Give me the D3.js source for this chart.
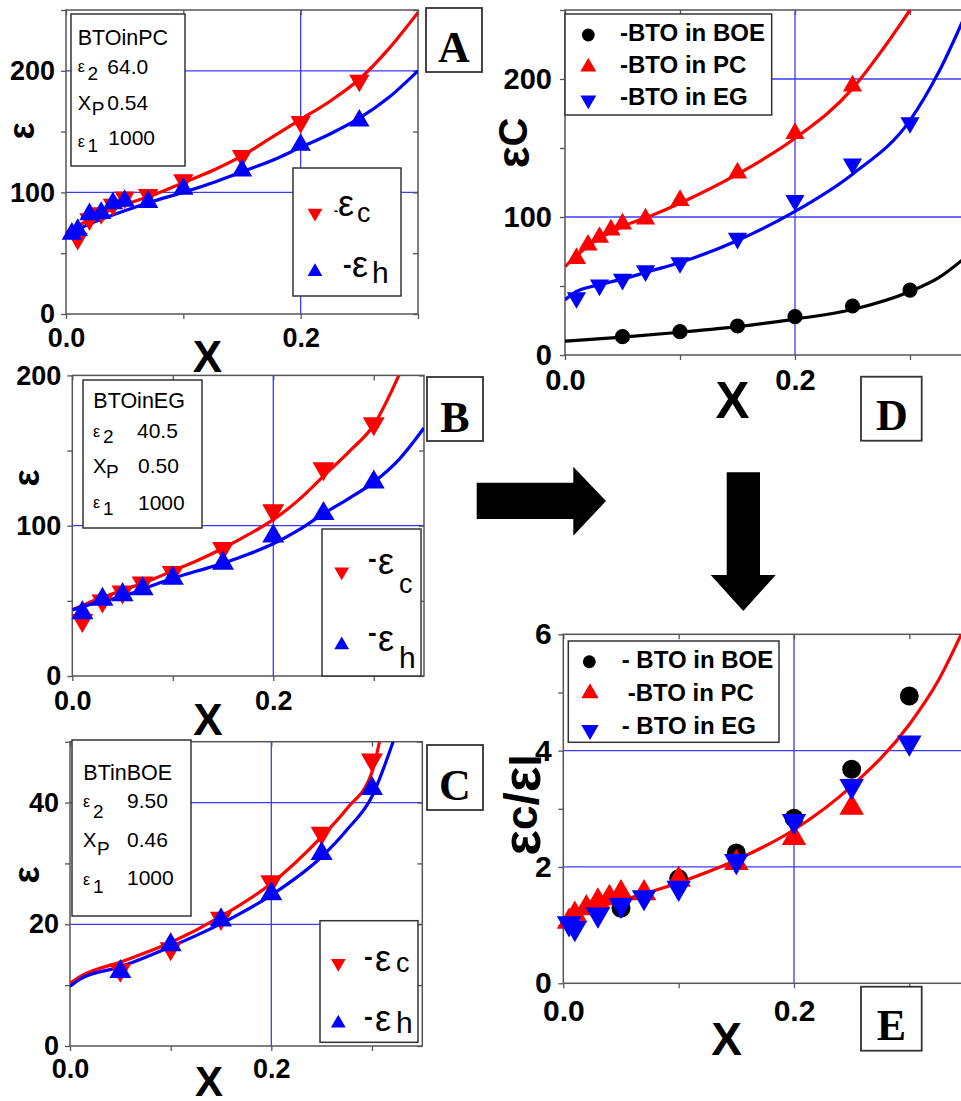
<!DOCTYPE html>
<html><head><meta charset="utf-8">
<script src="https://cdn.jsdelivr.net/npm/d3@7"></script>
<style>body{margin:0;background:#fff}svg{display:block}</style>
</head><body>
<script>
// ---------------- DATA ----------------
// Panel A : BTO in PC
const A_xc   = [0.01,0.02,0.03,0.04,0.05,0.07,0.1,0.15,0.2,0.25];
const A_epsc = [62,78,83,90,96,98,110,130,158,192];
const A_xh   = [0.005,0.01,0.02,0.03,0.04,0.05,0.07,0.1,0.15,0.2,0.25];
const A_epsh = [66,69,82,83,91,93,92,103,118,139,159];
const A_fitX = [0,0.025,0.05,0.075,0.1,0.125,0.15,0.175,0.2,0.225,0.25,0.275,0.3];
const A_fitC = [67,80,90,98,108,118,130,145,160,175,193,218,248];
const A_fitH = [65,76,85,93,100,108,117,126,137,148,161,178,200];
// Panel B : BTO in EG
const B_xc   = [0.01,0.03,0.05,0.07,0.1,0.15,0.2,0.25,0.3];
const B_epsc = [37,50,56,62,69,85,110,138,168];
const B_xh   = [0.01,0.03,0.05,0.07,0.1,0.15,0.2,0.25,0.3];
const B_epsh = [42,51,54,58,65,75,93,108,129];
const B_fitCX = [0,0.025,0.05,0.075,0.1,0.125,0.15,0.175,0.2,0.225,0.25,0.275,0.3,0.325];
const B_fitC  = [44,51,57,63,70,77,85,94,104,117,133,149,167,200];
const B_fitHX = [0,0.025,0.05,0.075,0.1,0.125,0.15,0.175,0.2,0.225,0.25,0.275,0.3,0.325,0.35];
const B_fitH  = [44,49,53,59,65,70,75,81,88,97,108,118,129,144,165];
// Panel C : BT in BOE
const C_xc   = [0.05,0.1,0.15,0.2,0.25,0.3];
const C_epsc = [12.5,16,21,27,35,47];
const C_xh   = [0.05,0.1,0.15,0.2,0.25,0.3];
const C_epsh = [12.2,16.6,20.7,25,31.6,42.3];
const C_fitCX = [0,0.01,0.05,0.1,0.15,0.2,0.25,0.275,0.3,0.3075];
const C_fitC  = [10.3,11.4,13.8,17,21.3,26.7,34.4,39,45,50];
const C_fitHX = [0,0.01,0.05,0.1,0.15,0.2,0.25,0.275,0.3,0.321];
const C_fitH  = [9.8,11,13,16.3,20.1,24.8,31.1,35.5,41,50];
// Panel D : eps_c of the three suspensions
const D_xBOE = [0.05,0.1,0.15,0.2,0.25,0.3];
const D_BOE  = [13.3,16.9,21,27.8,35.5,47];
const D_xPC  = [0.01,0.02,0.03,0.04,0.05,0.07,0.1,0.15,0.2,0.25];
const D_PC   = [70,79.7,85.3,90.6,95,98.6,112,132,160.6,195];
const D_xEG  = [0.01,0.03,0.05,0.07,0.1,0.15,0.2,0.25,0.3];
const D_EG   = [41.5,50.7,54.8,61,66.9,84.5,112,138.4,168.3];
const D_fitPCX = [0,0.01,0.025,0.05,0.075,0.1,0.15,0.2,0.25,0.275,0.3];
const D_fitPC  = [64,72,82,93,101,110,131,157,193,220,250];
const D_fitEGX = [0,0.01,0.025,0.05,0.075,0.1,0.15,0.2,0.25,0.3,0.325,0.35];
const D_fitEG  = [40,46,50,55,61,67,83,104,131,170,205,250];
const D_fitBOEX = [0,0.05,0.1,0.15,0.2,0.25,0.3,0.325,0.35];
const D_fitBOE  = [10,13,16.5,20.5,26,33,46,56,72];
// Panel E : eps_c / eps_l
const E_xBOE = [0.05,0.1,0.15,0.2,0.25,0.3];
const E_BOE  = [1.29,1.8,2.24,2.84,3.68,4.94];
const E_xPC  = [0.005,0.01,0.02,0.03,0.04,0.05,0.07,0.1,0.15,0.2,0.25];
const E_PC   = [1.06,1.18,1.29,1.41,1.47,1.55,1.55,1.78,2.07,2.5,3.02];
const E_xEG  = [0.005,0.01,0.03,0.05,0.07,0.1,0.15,0.2,0.25,0.3];
const E_EG   = [1.03,0.95,1.18,1.35,1.48,1.64,2.1,2.79,3.39,4.14];
const E_fitX = [0,0.01,0.05,0.1,0.15,0.2,0.25,0.3,0.325,0.345];
const E_fit  = [1.0,1.17,1.42,1.73,2.12,2.64,3.39,4.45,5.2,6.0];
// Ticks
const xTicks = [0,0.1,0.2,0.3];
const xLabels = [0,0.2];
const yTicksA = [0,50,100,150,200,250], yLabelsA = [0,100,200];
const yTicksB = [0,50,100,150,200],     yLabelsB = [0,100,200];
const yTicksC = [0,10,20,30,40,50],     yLabelsC = [0,20,40];
const yTicksD = [0,50,100,150,200,250], yLabelsD = [0,100,200];
const yTicksE = [0,1,2,3,4,5,6],        yLabelsE = [0,2,4,6];

// ---------------- DRAW ----------------
const RED='#ff0000', BLUE='#0000ff', GRID='#3a3aff', FRAME='#555';
const SANS='"Liberation Sans", Arial, sans-serif', SERIF='"Liberation Serif","Times New Roman",serif';
const svg = d3.select('body').append('svg').attr('width',961).attr('height',1101);
let clipN = 0;

function panel(c){
  const x = d3.scaleLinear().domain(c.xDom).range([c.l,c.r]);
  const y = d3.scaleLinear().domain(c.yDom).range([c.b,c.t]);
  const id = 'clip'+(clipN++);
  svg.append('clipPath').attr('id',id).append('rect')
    .attr('x',c.l).attr('y',c.t).attr('width',c.r-c.l).attr('height',c.b-c.t);
  const g = svg.append('g');
  c.gridX.forEach(v=>g.append('line').attr('x1',x(v)).attr('x2',x(v)).attr('y1',c.t).attr('y2',c.b)
      .attr('stroke',GRID).attr('stroke-width',1.3));
  c.gridY.forEach(v=>g.append('line').attr('x1',c.l).attr('x2',c.r).attr('y1',y(v)).attr('y2',y(v))
      .attr('stroke',GRID).attr('stroke-width',1.3));
  const fmtX = d => xLabels.includes(d) ? d.toFixed(1) : '';
  const fmtY = d => c.yLabels.includes(d) ? String(d) : '';
  const styleAxis = a => { a.select('.domain').remove(); a.selectAll('line').attr('stroke',FRAME).attr('stroke-width',1.3);
    a.selectAll('text').attr('font-family',SANS).attr('font-weight','bold').attr('font-size',c.fs).attr('fill','#000'); };
  const xt = xTicks.filter(v=>v<=c.xDom[1]+1e-9);
  g.append('g').attr('transform',`translate(0,${c.b})`)
    .call(d3.axisBottom(x).tickValues(xt).tickSize(5).tickPadding(c.xPad).tickFormat(fmtX)).call(styleAxis);
  g.append('g').attr('transform',`translate(0,${c.t})`)
    .call(d3.axisTop(x).tickValues(xt).tickSize(-5).tickFormat('')).call(styleAxis);
  g.append('g').attr('transform',`translate(${c.l},0)`)
    .call(d3.axisLeft(y).tickValues(c.yTicks).tickSize(5).tickPadding(c.yPad).tickFormat(fmtY)).call(styleAxis);
  g.append('g').attr('transform',`translate(${c.r},0)`)
    .call(d3.axisRight(y).tickValues(c.yTicks).tickSize(-5).tickFormat('')).call(styleAxis);
  g.append('rect').attr('x',c.l).attr('y',c.t).attr('width',c.r-c.l).attr('height',c.b-c.t)
    .attr('fill','none').attr('stroke',FRAME).attr('stroke-width',1.5);
  return {x,y,g,id};
}
function fitLine(P,xs,ys,color){
  const line = d3.line().x((d,i)=>P.x(xs[i])).y((d,i)=>P.y(ys[i])).curve(d3.curveMonotoneX);
  P.g.append('path').attr('d',line(xs)).attr('fill','none').attr('stroke',color)
    .attr('stroke-width',3.2).attr('clip-path',`url(#${P.id})`);
}
function marks(P,xs,ys,type,color,size){
  const sym = d3.symbol().type(type==='circle'?d3.symbolCircle:d3.symbolTriangle).size(size);
  xs.forEach((v,i)=>{
    P.g.append('path').attr('d',sym()).attr('fill',color)
      .attr('transform',`translate(${P.x(v)},${P.y(ys[i])})`+(type==='down'?' rotate(180)':''));
  });
}
function marker(x,y,type,color,size){
  const sym = d3.symbol().type(type==='circle'?d3.symbolCircle:d3.symbolTriangle).size(size);
  svg.append('path').attr('d',sym()).attr('fill',color)
    .attr('transform',`translate(${x},${y})`+(type==='down'?' rotate(180)':''));
}
function box(x,y,w,h,sw){
  svg.append('rect').attr('x',x).attr('y',y).attr('width',w).attr('height',h)
    .attr('fill','#fff').attr('stroke','#333').attr('stroke-width',sw||1.5);
}
function txt(x,y,s,size,opts){
  opts=opts||{};
  return svg.append('text').attr('x',x).attr('y',y).text(s).attr('font-size',size)
    .attr('font-family',opts.serif?SERIF:SANS).attr('font-weight',opts.bold?'bold':'normal')
    .attr('text-anchor',opts.anchor||'start').attr('fill','#000');
}
function letterBox(x,y,w,h,L,cx,bl){
  box(x,y,w,h,1.8);
  txt(cx,bl,L,44,{serif:true,bold:true,anchor:'middle'});
}
function rotLabel(cx,cy,parts,size){
  const t = svg.append('text').attr('transform',`translate(${cx},${cy}) rotate(-90)`)
    .attr('text-anchor','middle').attr('dominant-baseline','central')
    .attr('font-family',SANS).attr('font-weight','bold').attr('font-size',size);
  parts.forEach(p=>t.append('tspan').text(p.t).attr('font-size',p.s||size).attr('dy',p.dy||0));
}
function paramBox(b,title,tx,tbl,rows){
  box(b[0],b[1],b[2],b[3],1.5);
  txt(tx,tbl,title,21.5);
  rows.forEach(r=>{
    txt(r.sx,r.sy,r.sym,r.symSize||16);
    txt(r.ix,r.iy,r.idx,19);
    txt(r.vx,r.vy,r.val,21);
  });
}
function epsLegend(mx,my,type,color,dashX,dashY,dashSize,ex,ey,sub,subX,subY,subSize){
  marker(mx,my,type,color,95);
  txt(dashX,dashY,'-',dashSize,{bold:true});
  txt(ex,ey,'ε',36);
  txt(subX,subY,sub,subSize||27);
}

// ---- Panel A ----
const PA = panel({l:66,r:418,t:10,b:314,xDom:[0,0.3],yDom:[0,250],gridX:[0.2],gridY:[100,200],
  yTicks:yTicksA,yLabels:yLabelsA,fs:27,xPad:8.8,yPad:6});
fitLine(PA,A_fitX,A_fitC,RED); fitLine(PA,A_fitX,A_fitH,BLUE);
marks(PA,A_xc,A_epsc,'down',RED,180); marks(PA,A_xh,A_epsh,'up',BLUE,180);
paramBox([71,14,114,152],'BTOinPC',77.7,45,[
  {sym:'ε',sx:77.7,sy:72,idx:'2',ix:87.5,iy:80,val:'64.0',vx:107.3,vy:74},
  {sym:'X',symSize:20,sx:77.7,sy:110,idx:'P',ix:91.7,iy:115,val:'0.54',vx:107.3,vy:110},
  {sym:'ε',sx:77.7,sy:147,idx:'1',ix:87.5,iy:152,val:'1000',vx:108.3,vy:145}]);
box(293,168,108,128,1.5);
epsLegend(315,213,'down',RED,334,215,12,338,216,'c',357,222);
epsLegend(315,271.7,'up',BLUE,343,273,26,352,277,'h',372,283,30);
letterBox(426,8,56,64,'A',454,61.5);
rotLabel(21,131,[{t:'ε'}],36);
txt(207.5,372,'X',44,{bold:true,anchor:'middle'});

// ---- Panel B ----
const PB = panel({l:72.3,r:424,t:375.4,b:676,xDom:[0,0.35],yDom:[0,200],gridX:[0.2],gridY:[100],
  yTicks:yTicksB,yLabels:yLabelsB,fs:27,xPad:9.8,yPad:6});
fitLine(PB,B_fitCX,B_fitC,RED); fitLine(PB,B_fitHX,B_fitH,BLUE);
marks(PB,B_xc,B_epsc,'down',RED,210); marks(PB,B_xh,B_epsh,'up',BLUE,210);
paramBox([83,380,119,148],'BTOinEG',93.3,408,[
  {sym:'ε',sx:93,sy:437,idx:'2',ix:103,iy:443,val:'40.5',vx:137,vy:438},
  {sym:'X',symSize:20,sx:93,sy:473,idx:'P',ix:106,iy:478,val:'0.50',vx:138,vy:473},
  {sym:'ε',sx:93,sy:508,idx:'1',ix:103,iy:515,val:'1000',vx:138,vy:510}]);
box(322,529,99,147,1.5);
epsLegend(341.7,571.7,'down',RED,368,567,26,378,574,'c',399,593);
epsLegend(341.7,645,'up',BLUE,368,641,26,378,651,'h',399,668,30);
letterBox(427,377,56,64,'B',455,431.5);
rotLabel(26,478,[{t:'ε'}],36);
txt(208,735,'X',44,{bold:true,anchor:'middle'});

// ---- Panel C ----
const PC = panel({l:70,r:422.3,t:741.7,b:1046,xDom:[0,0.35],yDom:[0,50],gridX:[0.2],gridY:[20,40],
  yTicks:yTicksC,yLabels:yLabelsC,fs:27,xPad:7.5,yPad:6});
fitLine(PC,C_fitCX,C_fitC,RED); fitLine(PC,C_fitHX,C_fitH,BLUE);
marks(PC,C_xc,C_epsc,'down',RED,210); marks(PC,C_xh,C_epsh,'up',BLUE,210);
paramBox([72,740,119,176],'BTinBOE',83.3,780,[
  {sym:'ε',sx:83,sy:807,idx:'2',ix:93,iy:818,val:'9.50',vx:127,vy:808},
  {sym:'X',symSize:20,sx:83,sy:847,idx:'P',ix:97,iy:855,val:'0.46',vx:127,vy:847},
  {sym:'ε',sx:83,sy:885,idx:'1',ix:93,iy:893,val:'1000',vx:127,vy:885}]);
box(320,920.7,98,121.6,1.5);
epsLegend(338.3,963.3,'down',RED,364,965,26,375,971,'c',396,972);
epsLegend(338.3,1023.3,'up',BLUE,364,1025,26,375,1031,'h',396,1033,30);
letterBox(427,745,56,65,'C',455,800);
rotLabel(26,875,[{t:'ε'}],36);
txt(209,1096,'X',42,{bold:true,anchor:'middle'});

// ---- Panel D ----
const PD = panel({l:565,r:967.5,t:10,b:355,xDom:[0,0.35],yDom:[0,250],gridX:[0.2],gridY:[100,200],
  yTicks:yTicksD,yLabels:yLabelsD,fs:29,xPad:9.5,yPad:8});
fitLine(PD,D_fitPCX,D_fitPC,RED); fitLine(PD,D_fitEGX,D_fitEG,BLUE); fitLine(PD,D_fitBOEX,D_fitBOE,'#000');
marks(PD,D_xBOE,D_BOE,'circle','#000',180);
marks(PD,D_xPC,D_PC,'up',RED,160);
marks(PD,D_xEG,D_EG,'down',BLUE,160);
box(565,14,206.7,101,1.5);
marker(588.3,35,'circle','#000',130); txt(620,40.7,'-BTO in BOE',24,{bold:true});
marker(588.3,67,'up',RED,110);       txt(620,72.7,'-BTO in PC',24,{bold:true});
marker(588.3,100,'down',BLUE,110);   txt(620,105.3,'-BTO in EG',24,{bold:true});
letterBox(861,376.7,60.7,64,'D',892,430);
rotLabel(513,143,[{t:'ε',s:46},{t:'C',s:40}],40);
txt(732.5,418,'X',51,{bold:true,anchor:'middle'});

// ---- Panel E ----
const PE = panel({l:563.3,r:967,t:634.3,b:983.3,xDom:[0,0.35],yDom:[0,6],gridX:[0.2],gridY:[2,4],
  yTicks:yTicksE,yLabels:yLabelsE,fs:30,xPad:11.7,yPad:6.5});
fitLine(PE,E_fitX,E_fit,RED);
marks(PE,E_xBOE,E_BOE,'circle','#000',280);
marks(PE,E_xPC,E_PC,'up',RED,260);
marks(PE,E_xEG,E_EG,'down',BLUE,260);
box(568.3,641,210.7,101.3,1.5);
marker(589.3,661.7,'circle','#000',130); txt(621.7,668,'- BTO in BOE',24,{bold:true});
marker(590,693.3,'up',RED,130);          txt(627.7,701,'-BTO in PC',24,{bold:true});
marker(590,730,'down',BLUE,130);         txt(621.7,734,'- BTO in EG',24,{bold:true});
letterBox(861,986.7,60.7,64,'E',891.5,1040);
rotLabel(521,805,[{t:'ε',s:54},{t:'c',s:44},{t:'/',s:48},{t:'ε',s:54},{t:'l',s:44,dy:4}],44);
txt(726.7,1055,'X',46,{bold:true,anchor:'middle'});

// ---- Arrows ----
svg.append('path').attr('d','M476.7,482.7 H573.3 V466.7 L606,501 L573.3,535.7 V519 H476.7 Z').attr('fill','#000');
svg.append('path').attr('d','M726.7,472.3 H760 V575 H775.7 L743.3,611 L710.7,575 H726.7 Z').attr('fill','#000');
</script>
</body></html>
